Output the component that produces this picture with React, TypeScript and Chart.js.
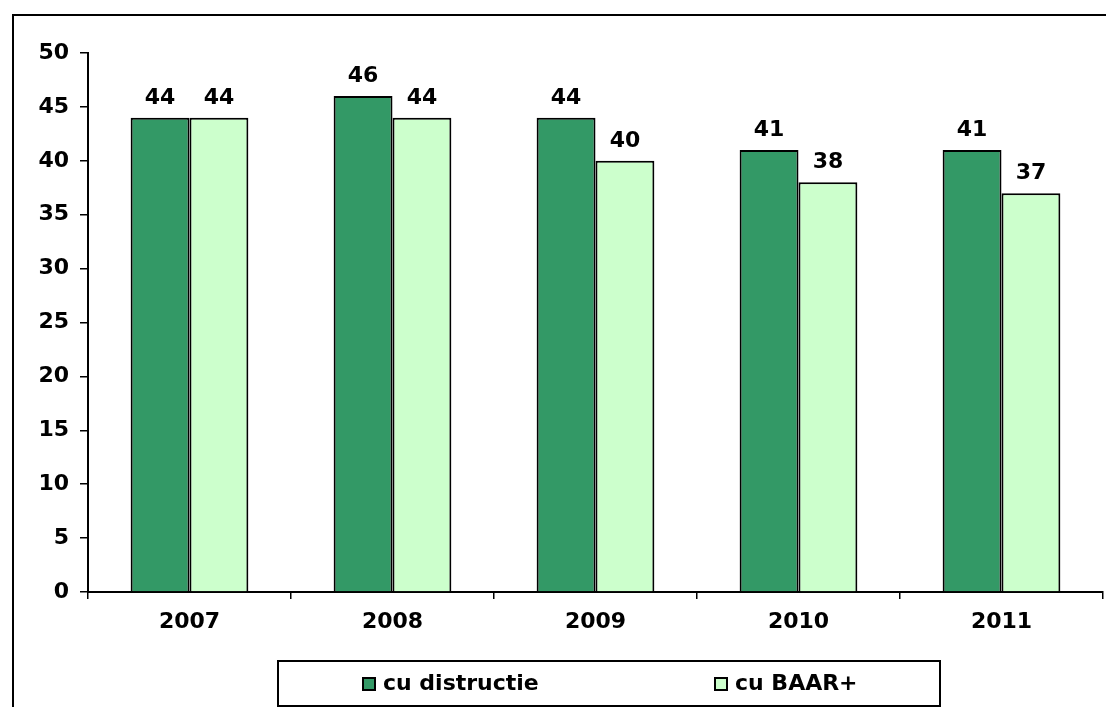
import React, { useEffect, useRef } from "react";
import { Chart, registerables } from "chart.js";

Chart.register(...registerables);

const categories = ["2007", "2008", "2009", "2010", "2011"];
const seriesNames = ["cu distructie", "cu BAAR+"];
const distructieValues = [44, 46, 44, 41, 41];
const baarValues = [44, 44, 40, 38, 37];
const seriesColors = ["#339966", "#CCFFCC"];
const yTicksMin = 0;
const yTicksMax = 50;
const yTicksStep = 5;

const FONT = "'DejaVu Sans', Verdana, sans-serif";
const FSIZE = 22;

const framePlugin = {
  id: "frame",
  beforeDraw(chart: any) {
    const ctx = chart.ctx;
    ctx.save();
    ctx.fillStyle = "#fff";
    ctx.fillRect(0, 0, chart.width, chart.height);
    ctx.strokeStyle = "#000";
    ctx.lineWidth = 2;
    ctx.beginPath();
    ctx.moveTo(13, chart.height + 2);
    ctx.lineTo(13, 15);
    ctx.lineTo(chart.width + 2, 15);
    ctx.stroke();
    ctx.restore();
  },
};

const valueLabelPlugin = {
  id: "valueLabels",
  afterDatasetsDraw(chart: any) {
    const ctx = chart.ctx;
    ctx.save();
    ctx.fillStyle = "#000";
    ctx.font = `bold ${FSIZE}px ${FONT}`;
    ctx.textAlign = "center";
    ctx.textBaseline = "alphabetic";
    chart.data.datasets.forEach((ds: any, i: number) => {
      const meta = chart.getDatasetMeta(i);
      meta.data.forEach((bar: any, j: number) => {
        ctx.fillText(String(ds.data[j]), bar.x, bar.y - 14);
      });
    });
    ctx.restore();
  },
};

const boxLegendPlugin = {
  id: "boxLegend",
  afterDraw(chart: any) {
    const ctx = chart.ctx;
    ctx.save();
    ctx.strokeStyle = "#000";
    ctx.lineWidth = 2;
    ctx.strokeRect(278, 661, 662, 45);
    const itemX = [362, 714];
    ctx.font = `bold ${FSIZE}px ${FONT}`;
    ctx.textAlign = "left";
    ctx.textBaseline = "middle";
    chart.data.datasets.forEach((ds: any, i: number) => {
      const x = itemX[i];
      ctx.fillStyle = ds.backgroundColor;
      ctx.fillRect(x, 677, 13, 13);
      ctx.lineWidth = 2;
      ctx.strokeStyle = "#000";
      ctx.strokeRect(x + 1, 678, 12, 12);
      ctx.fillStyle = "#000";
      ctx.fillText(ds.label, x + 21, 684);
    });
    ctx.restore();
  },
};

export default function App() {
  const ref = useRef<HTMLCanvasElement>(null);
  useEffect(() => {
    if (!ref.current) return;
    const chart = new Chart(ref.current, {
      type: "bar",
      data: {
        labels: categories,
        datasets: [
          {
            label: seriesNames[0],
            data: distructieValues,
            backgroundColor: seriesColors[0],
            borderColor: "#000",
            borderWidth: 2,
            categoryPercentage: 0.58,
            barPercentage: 1,
          },
          {
            label: seriesNames[1],
            data: baarValues,
            backgroundColor: seriesColors[1],
            borderColor: "#000",
            borderWidth: 2,
            categoryPercentage: 0.58,
            barPercentage: 1,
          },
        ],
      },
      options: {
        responsive: false,
        maintainAspectRatio: false,
        animation: false,
        layout: { padding: { left: 0, top: 53, right: 3, bottom: 0 } },
        plugins: {
          legend: { display: false },
          title: { display: false },
          tooltip: { enabled: false },
        },
        scales: {
          x: {
            grid: {
              display: true,
              drawOnChartArea: false,
              drawTicks: true,
              tickLength: 7,
              color: "#000",
              lineWidth: 1.5,
              offset: true,
            },
            border: { display: true, color: "#000", width: 2 },
            ticks: {
              color: "#000",
              font: { family: FONT, size: FSIZE, weight: "bold" },
              padding: 10,
            },
            afterFit(scale: any) {
              scale.height = 115;
            },
          },
          y: {
            min: yTicksMin,
            max: yTicksMax,
            grid: {
              display: true,
              drawOnChartArea: false,
              drawTicks: true,
              tickLength: 8,
              color: "#000",
              lineWidth: 1.5,
            },
            border: { display: true, color: "#000", width: 2 },
            ticks: {
              stepSize: yTicksStep,
              color: "#000",
              font: { family: FONT, size: FSIZE, weight: "bold" },
              padding: 11,
            },
            afterFit(scale: any) {
              scale.width = 88;
            },
          },
        },
      },
      plugins: [framePlugin, valueLabelPlugin, boxLegendPlugin],
    } as any);
    return () => chart.destroy();
  }, []);
  return (
    <div style={{ position: "fixed", left: 0, top: 0, width: 1106, height: 707 }}>
      <canvas ref={ref} width={1106} height={707} style={{ display: "block" }} />
    </div>
  );
}
